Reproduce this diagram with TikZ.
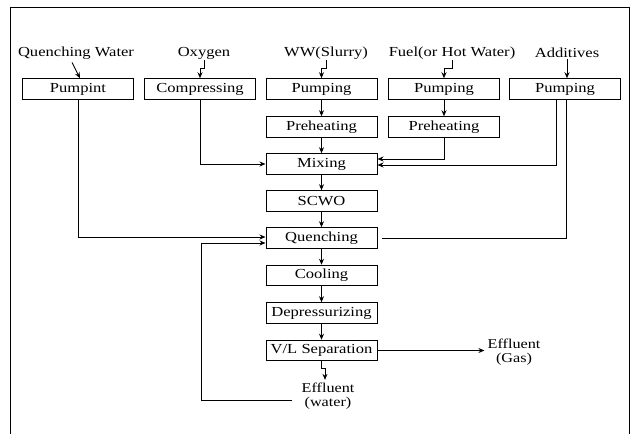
\documentclass[tikz,border=0pt]{standalone}
\usepackage{fontspec}
\usepackage{graphicx}
\setmainfont{Liberation Serif}
\newcommand\stt[1]{\scalebox{1.2}[1]{#1}}
\usetikzlibrary{calc,arrows.meta}
\begin{document}
\begin{tikzpicture}[x=1pt,y=-1pt,
  every node/.style={font=\fontsize{13.8}{12}\selectfont},
  box/.style={draw,line width=1pt,minimum width=111,minimum height=20.5,inner sep=0pt},
  lbl/.style={inner sep=1pt,align=center},
  eff/.style={inner sep=3pt,align=center,font=\fontsize{13.5}{13.5}\selectfont},
  ln/.style={line width=0.9pt},
  arr/.style={line width=0.9pt,-{Stealth[length=6pt,width=5pt]}}]
\useasboundingbox (0,0) rectangle (644,434);
% frame
\draw[ln] (10,434) -- (10,7) -- (629,7) -- (629,434);
% top labels
\node[lbl] (qw) at (76,53) {\stt{Quenching Water}};
\node[lbl] (oxy) at (204,53) {\stt{Oxygen}};
\node[lbl] (ww) at (326,53) {\stt{WW(Slurry)}};
\node[lbl] (fuel) at (452,53) {\stt{Fuel(or Hot Water)}};
\node[lbl] (add) at (567,53) {\stt{Additives}};
% boxes
\node[box] (pumpint) at (78,89) {\stt{Pumpint}};
\node[box] (comp) at (200,89) {\stt{Compressing}};
\node[box] (wwpump) at (321.5,89) {\stt{Pumping}};
\node[box] (fpump) at (444,89) {\stt{Pumping}};
\node[box] (apump) at (565,89) {\stt{Pumping}};
\node[box] (wwpre) at (321.5,127) {\stt{Preheating}};
\node[box] (fpre) at (444,127) {\stt{Preheating}};
\node[box] (mix) at (321.5,164) {\stt{Mixing}};
\node[box] (scwo) at (321.5,201) {\stt{SCWO}};
\node[box] (quench) at (321.5,238) {\stt{Quenching}};
\node[box] (cool) at (321.5,275.5) {\stt{Cooling}};
\node[box] (depr) at (321.5,313) {\stt{Depressurizing}};
\node[box] (vl) at (321.5,350.5) {\stt{V/L Separation}};
\node[eff] (effw) at (328,396) {\stt{Effluent}\\\stt{(water)}};
\node[eff] (effg) at (514,352) {\stt{Effluent}\\\stt{(Gas)}};
% inputs
\draw[arr] ($(qw.south)+(-4,2)$) -- ($(pumpint.north)+(2,0)$);
\draw[arr] (oxy.south) -- ++(0,8) -| (comp.north);
\draw[arr] (ww.south) -- ++(0,8) -| (wwpump.north);
\draw[arr] (fuel.south) -- ++(0,8) -| (fpump.north);
\draw[arr] (add.south) -- (add.south |- apump.north);
% main column
\draw[arr] (wwpump) -- (wwpre);
\draw[arr] (wwpre) -- (mix);
\draw[arr] (mix) -- (scwo);
\draw[arr] (scwo) -- (quench);
\draw[arr] (quench) -- (cool);
\draw[arr] (cool) -- (depr);
\draw[arr] (depr) -- (vl);
\draw[arr] (fpump) -- (fpre);
% side feeds
\draw[arr] (comp.south) |- (mix.west);
\draw[arr] (fpre.south) |- ($(mix.east)+(0,-5)$);
\draw[arr] ($(apump.south)+(-9,0)$) |- ($(mix.east)+(0,1)$);
\draw[ln] ($(apump.south)+(1,0)$) |- ($(quench.east)+(4,0)$);
\draw[arr] (pumpint.south) |- ($(quench.west)+(0,-1)$);
% outputs
\draw[arr] (vl.south) -- ++(0,7) -| ($(effw.north)+(-3,0)$);
\draw[arr] (vl.east) -- (effg.west |- vl.east);
\coordinate (lp) at (201,400);
\draw[arr] ($(effw.west |- lp)+(-6,0)$) -- (lp) |- ($(quench.west)+(0,5)$);
\end{tikzpicture}
\end{document}
